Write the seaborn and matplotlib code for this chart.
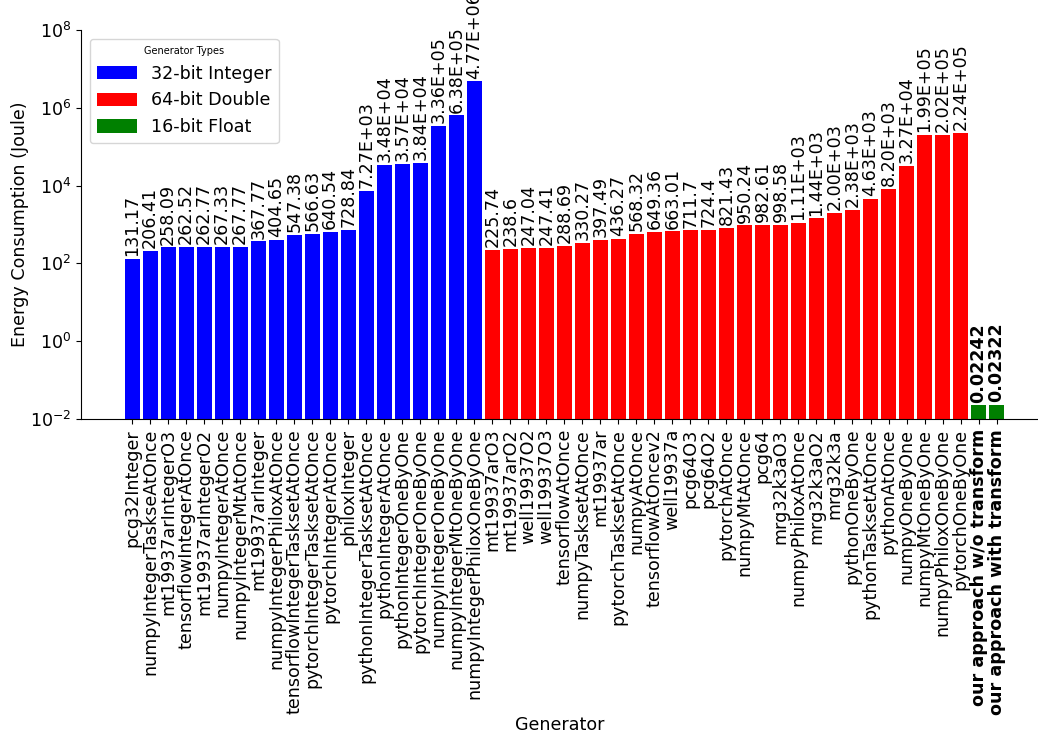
import matplotlib
matplotlib.use("Agg")
import matplotlib.pyplot as plt
from matplotlib.ticker import NullLocator
import seaborn as sns
import pandas as pd

# Generators grouped by output type
int32_names = [
    "pcg32Integer", "numpyIntegerTaskseAtOnce", "mt19937arIntegerO3",
    "tensorflowIntegerAtOnce", "mt19937arIntegerO2", "numpyIntegerAtOnce",
    "numpyIntegerMtAtOnce", "mt19937arInteger", "numpyIntegerPhiloxAtOnce",
    "tensorflowIntegerTasksetAtOnce", "pytorchIntegerTasksetAtOnce",
    "pytorchIntegerAtOnce", "philoxInteger", "pythonIntegerTasksetAtOnce",
    "pythonIntegerAtOnce", "pythonIntegerOneByOne", "pytorchIntegerOneByOne",
    "numpyIntegerOneByOne", "numpyIntegerMtOneByOne", "numpyIntegerPhiloxOneByOne",
]
int32_energy = [
    131.17, 206.41, 258.09, 262.52, 262.77, 267.33, 267.77, 367.77, 404.65,
    547.38, 566.63, 640.54, 728.84, 7.27e3, 3.48e4, 3.57e4, 3.84e4, 3.36e5,
    6.38e5, 4.77e6,
]

double64_names = [
    "mt19937arO3", "mt19937arO2", "well19937O2", "well19937O3", "tensorflowAtOnce",
    "numpyTasksetAtOnce", "mt19937ar", "pytorchTasksetAtOnce", "numpyAtOnce",
    "tensorflowAtOncev2", "well19937a", "pcg64O3", "pcg64O2", "pytorchAtOnce",
    "numpyMtAtOnce", "pcg64", "mrg32k3aO3", "numpyPhiloxAtOnce", "mrg32k3aO2",
    "mrg32k3a", "pythonOneByOne", "pythonTasksetAtOnce", "pythonAtOnce",
    "numpyOneByOne", "numpyMtOneByOne", "numpyPhiloxOneByOne", "pytorchOneByOne",
]
double64_energy = [
    225.74, 238.6, 247.04, 247.41, 288.69, 330.27, 397.49, 436.27, 568.32,
    649.36, 663.01, 711.7, 724.4, 821.43, 950.24, 982.61, 998.58, 1.11e3,
    1.44e3, 2.00e3, 2.38e3, 4.63e3, 8.20e3, 3.27e4, 1.99e5, 2.02e5, 2.24e5,
]

float16_names = ["our approach w/o transform", "our approach with transform"]
float16_energy = [0.02242, 0.02322]

type_labels = ["32-bit Integer", "64-bit Double", "16-bit Float"]
type_colors = ["blue", "red", "green"]

df = pd.DataFrame({
    "Generator": int32_names + double64_names + float16_names,
    "Energy": int32_energy + double64_energy + float16_energy,
    "Type": [type_labels[0]] * len(int32_names)
            + [type_labels[1]] * len(double64_names)
            + [type_labels[2]] * len(float16_names),
})

FS = 12.6
plt.rcParams["font.family"] = ["DejaVu Sans"]
plt.rcParams["font.size"] = FS

fig = plt.figure(figsize=(10.38, 7.38), dpi=100)
ax = fig.add_axes([0.078, 0.4322, 0.922, 0.5271])

sns.barplot(
    data=df, x="Generator", y="Energy", hue="Type",
    palette=dict(zip(type_labels, type_colors)),
    dodge=False, width=0.84, saturation=1, linewidth=0, ax=ax,
)
ax.set_yscale("log")
ax.set_ylim(1e-2, 1e8)
ax.set_yticks([1e-2, 1e0, 1e2, 1e4, 1e6, 1e8])
ax.yaxis.set_minor_locator(NullLocator())
ax.set_xlim(-2.84, len(df) - 1 + 2.3)


def fmt_energy(v):
    return f"{v:.2E}" if v >= 1000 else f"{v:.5g}"


for i, cont in enumerate(ax.containers):
    texts = ax.bar_label(cont, labels=[fmt_energy(b.get_height()) for b in cont],
                         rotation=90, padding=2, fontsize=FS)
    if i == 2:
        for t in texts:
            t.set_fontweight("bold")

ax.tick_params(axis="x", labelrotation=90, labelsize=FS)
ax.tick_params(axis="y", labelsize=FS)
for lbl in ax.get_xticklabels():
    if lbl.get_text() in float16_names:
        lbl.set_fontweight("bold")

ax.set_xlabel("Generator", fontsize=FS, labelpad=1)
ax.set_ylabel("Energy Consumption (Joule)", fontsize=FS, labelpad=1)
sns.despine(ax=ax)

sns.move_legend(
    ax, "upper left", title="Generator Types", title_fontsize=7,
    fontsize=FS, handlelength=2.3, handleheight=0.8, frameon=True,
)

fig.savefig("out.png", dpi=100)
